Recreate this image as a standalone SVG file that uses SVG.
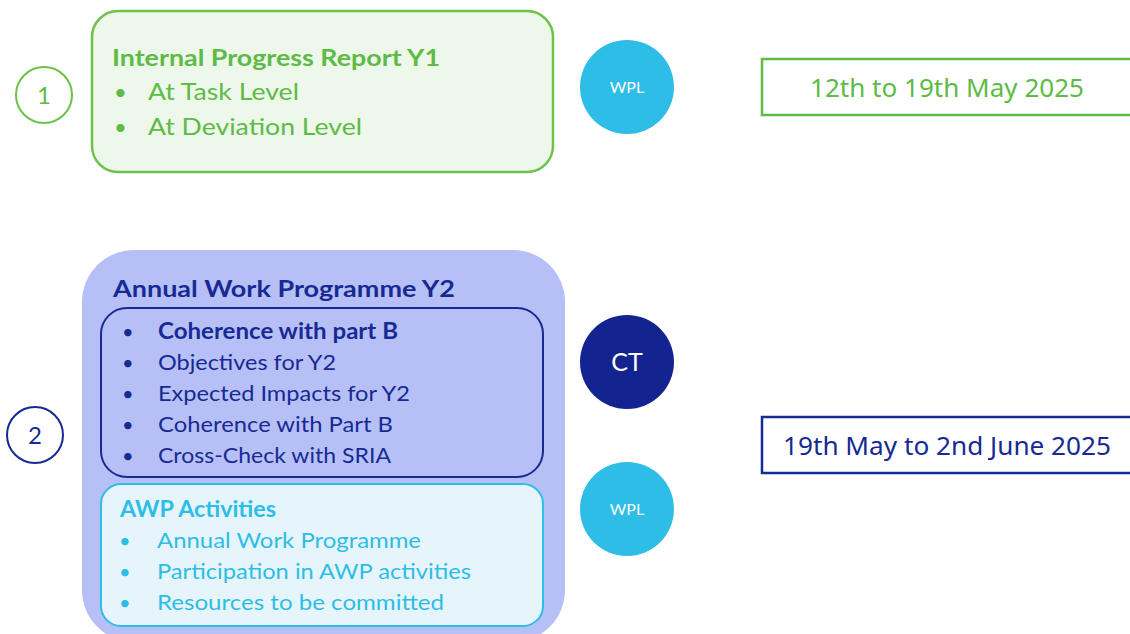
<svg xmlns="http://www.w3.org/2000/svg" width="1130" height="634" viewBox="0 0 1130 634">
<style>
.cal{font-family:Lato,"Open Sans","Liberation Sans",sans-serif}
.dt{font-family:"Noto Sans","Open Sans","Liberation Sans",sans-serif}
.g{fill:#5dbb46}
.b{fill:#172a94}
.c{fill:#2ebde6}
.w{fill:#ffffff}
</style>
<rect width="1130" height="634" fill="#ffffff"/>
<g id="step1">
<circle cx="44" cy="95" r="28" fill="none" stroke="#6cc24a" stroke-width="2"/>
<text x="44" y="104" text-anchor="middle" class="cal g" font-size="24">1</text>
</g>
<g id="report-y1">
<rect x="92" y="11" width="461" height="161" rx="26" fill="#edf7ea" stroke="#6cc24a" stroke-width="2.5"/>
<text x="112" y="66" class="cal g" font-size="23.5" font-weight="bold" textLength="328" lengthAdjust="spacingAndGlyphs">Internal Progress Report Y1</text>
<text x="114" y="100" class="cal g" font-size="22">•</text>
<text x="148" y="100" class="cal g" font-size="24" textLength="151" lengthAdjust="spacingAndGlyphs">At Task Level</text>
<text x="114" y="135" class="cal g" font-size="22">•</text>
<text x="148" y="135" class="cal g" font-size="24" textLength="214" lengthAdjust="spacingAndGlyphs">At Deviation Level</text>
</g>
<g id="wpl1">
<circle cx="627" cy="87" r="47" fill="#2ebde6"/>
<text x="627" y="93" text-anchor="middle" class="cal w" font-size="16">WPL</text>
</g>
<g id="date1">
<rect x="762" y="59" width="380" height="56" fill="#ffffff" stroke="#5dbb46" stroke-width="2.5"/>
<text x="810" y="97" class="dt g" font-size="25" textLength="274" lengthAdjust="spacingAndGlyphs">12th to 19th May 2025</text>
</g>
<g id="step2">
<circle cx="35" cy="435" r="28" fill="none" stroke="#172a94" stroke-width="2"/>
<text x="35" y="444" text-anchor="middle" class="cal b" font-size="24">2</text>
</g>
<g id="awp-y2">
<rect x="82" y="250" width="483" height="392" rx="52" fill="#b7c0f6"/>
<text x="113" y="297" class="cal b" font-size="23.5" font-weight="bold" textLength="342" lengthAdjust="spacingAndGlyphs">Annual Work Programme Y2</text>
</g>
<g id="awp-checks">
<rect x="101" y="308" width="442" height="169" rx="26" fill="#b7c0f6" stroke="#172a94" stroke-width="2"/>
<text x="122" y="339" class="cal b" font-size="20">•</text>
<text x="158" y="339" class="cal b" font-size="22" font-weight="bold" textLength="240" lengthAdjust="spacingAndGlyphs">Coherence with part B</text>
<text x="122" y="370" class="cal b" font-size="20">•</text>
<text x="158" y="370" class="cal b" font-size="22" textLength="178" lengthAdjust="spacingAndGlyphs">Objectives for Y2</text>
<text x="122" y="401" class="cal b" font-size="20">•</text>
<text x="158" y="401" class="cal b" font-size="22" textLength="252" lengthAdjust="spacingAndGlyphs">Expected Impacts for Y2</text>
<text x="122" y="432" class="cal b" font-size="20">•</text>
<text x="158" y="432" class="cal b" font-size="22" textLength="235" lengthAdjust="spacingAndGlyphs">Coherence with Part B</text>
<text x="122" y="463" class="cal b" font-size="20">•</text>
<text x="158" y="463" class="cal b" font-size="22" textLength="233" lengthAdjust="spacingAndGlyphs">Cross-Check with SRIA</text>
</g>
<g id="awp-activities">
<rect x="101" y="484" width="442" height="142" rx="20" fill="#e6f5fb" stroke="#2ebde6" stroke-width="2"/>
<text x="120" y="517" class="cal c" font-size="22" font-weight="bold" textLength="156" lengthAdjust="spacingAndGlyphs">AWP Activities</text>
<text x="119" y="548" class="cal c" font-size="20">•</text>
<text x="157" y="548" class="cal c" font-size="22" textLength="264" lengthAdjust="spacingAndGlyphs">Annual Work Programme</text>
<text x="119" y="579" class="cal c" font-size="20">•</text>
<text x="157" y="579" class="cal c" font-size="22" textLength="314" lengthAdjust="spacingAndGlyphs">Participation in AWP activities</text>
<text x="119" y="610" class="cal c" font-size="20">•</text>
<text x="157" y="610" class="cal c" font-size="22" textLength="287" lengthAdjust="spacingAndGlyphs">Resources to be committed</text>
</g>
<g id="ct">
<circle cx="627" cy="362" r="47" fill="#13238f"/>
<text x="627" y="371" text-anchor="middle" class="cal w" font-size="25">CT</text>
</g>
<g id="wpl2">
<circle cx="627" cy="509" r="47" fill="#2ebde6"/>
<text x="627" y="515" text-anchor="middle" class="cal w" font-size="16">WPL</text>
</g>
<g id="date2">
<rect x="762" y="417" width="380" height="56" fill="#ffffff" stroke="#172a94" stroke-width="2.5"/>
<text x="783" y="455" class="dt b" font-size="25" textLength="328" lengthAdjust="spacingAndGlyphs">19th May to 2nd June 2025</text>
</g>
<g id="connectors"></g>
</svg>
